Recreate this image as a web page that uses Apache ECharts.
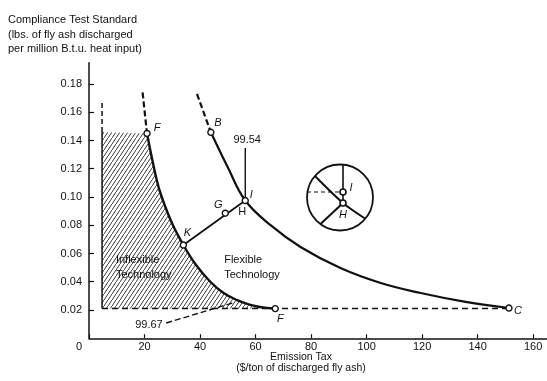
<!DOCTYPE html>
<html><head><meta charset="utf-8">
<script src="https://cdn.jsdelivr.net/npm/echarts@6/dist/echarts.min.js"></script>
<style>html,body{margin:0;padding:0;background:#fff}#c{width:547px;height:381px}</style>
</head><body><div id="c"></div>
<script>
// ---- data ----
const xTicks = [0, 20, 40, 60, 80, 100, 120, 140, 160];
const yTicks = [0.02, 0.04, 0.06, 0.08, 0.10, 0.12, 0.14, 0.16, 0.18];
const yTickLabels = ['0.02','0.04','0.06','0.08','0.10','0.12','0.14','0.16','0.18'];

// inner (inflexible) boundary curve F–K–F
const innerDashX = [19.3, 20.9];
const innerDashY = [0.174, 0.145];
const innerX = [20.9, 24.4, 26.2, 30.0, 34.0, 38.5, 43.7, 48.5, 53.4, 57.5, 60.6, 64.0, 67.1];
const innerY = [0.145, 0.112, 0.100, 0.081, 0.066, 0.052, 0.040, 0.032, 0.027, 0.024, 0.0225, 0.0215, 0.021];

// outer curve B–I–C
const outerDashX = [38.9, 43.9];
const outerDashY = [0.173, 0.1458];
const outerX = [43.9, 50.0, 56.3, 65.3, 76.2, 90.6, 105.1, 119.5, 135.7, 151.3];
const outerY = [0.1458, 0.121, 0.0975, 0.0802, 0.0646, 0.0497, 0.0391, 0.0320, 0.0257, 0.0214];

// hatched inflexible-technology region
const hatchLeftX = 4.7;
const hatchTopY = 0.146;
const baseY = 0.021;
const baseEndX = 151.3;
const hatchDashTopY = 0.168;

// K–G–H line and leaders
const khX = [34.0, 56.3];
const khY = [0.066, 0.0975];
const lead9954X = [56.3, 56.3];
const lead9954Y = [0.1347, 0.0975];
const lead9967X = [27.8, 51.6];
const lead9967Y = [0.0108, 0.0249];

// labelled points
const pointNames = ['F', 'B', 'K', 'G', 'I', 'F', 'C'];
const pointX = [20.9, 43.9, 34.0, 49.1, 56.3, 67.1, 151.3];
const pointY = [0.145, 0.1458, 0.066, 0.0885, 0.0975, 0.021, 0.0214];

// free text annotations
const noteText = ['99.54', '99.67', 'H', 'Inflexible\nTechnology', 'Flexible\nTechnology'];
const noteX = [57.0, 21.6, 55.2, 9.7, 48.7];
const noteY = [0.1404, 0.0094, 0.0894, 0.0504, 0.0504];

// inset (magnified view around I/H)
const insetVertX = [3, 3];   const insetVertY = [33, -5.5];
const insetCurveX = [-25, 3, 25]; const insetCurveY = [21.5, -5.5, -21];
const insetKHX = [3, -19.5]; const insetKHY = [-5.5, -26.5];
const insetDashX = [-33, 3]; const insetDashY = [5.5, 5.5];
const insetPtNames = ['I', 'H'];
const insetPtX = [3, 3];
const insetPtY = [5.5, -5.5];

// ---- helpers ----
const zip = (xs, ys) => xs.map((x, i) => [x, ys[i]]);
const FONT = '"Liberation Sans", Arial, sans-serif';
const INK = '#111';

const pat = document.createElement('canvas');
pat.width = 4; pat.height = 6;
(function () {
  const g = pat.getContext('2d');
  g.strokeStyle = '#222'; g.lineWidth = 0.9;
  g.beginPath();
  g.moveTo(-1, 7.5); g.lineTo(5, -1.5);
  g.stroke();
})();

const hatchPoly = [[hatchLeftX, hatchTopY]]
  .concat(zip(innerX, innerY))
  .concat([[hatchLeftX, baseY]]);

function lineS(xs, ys, opts) {
  return Object.assign({
    type: 'line', data: zip(xs, ys), symbol: 'none', silent: true,
    lineStyle: { color: INK, width: 2 }, z: 3, animation: false
  }, opts || {});
}

const chart = echarts.init(document.getElementById('c'));
chart.setOption({
  animation: false,
  grid: [
    { left: 89, right: 0, top: 62.8, bottom: 42.75 },
    { left: 307, top: 164.5, width: 66, height: 66 }
  ],
  xAxis: [{
    type: 'value', min: 0, max: 165, interval: 20, gridIndex: 0,
    splitLine: { show: false },
    axisLine: { lineStyle: { color: INK, width: 1.5 } },
    axisTick: { inside: true, length: 4, lineStyle: { color: INK, width: 1.2 }, customValues: xTicks },
    axisLabel: {
      customValues: xTicks,
      color: INK, fontFamily: FONT, fontSize: 11, margin: 3,
      formatter: v => v === 0 ? '{z|0}' : String(v),
      rich: { z: { padding: [0, 20, 0, 0], fontSize: 11, fontFamily: FONT, color: INK } }
    }
  }, {
    type: 'value', gridIndex: 1, min: -33, max: 33, show: false
  }],
  yAxis: [{
    type: 'value', min: 0, max: 0.195, interval: 0.02, gridIndex: 0,
    splitLine: { show: false },
    axisLine: { lineStyle: { color: INK, width: 1.5 } },
    axisTick: { inside: true, length: 5, lineStyle: { color: INK, width: 1.2 }, customValues: yTicks },
    axisLabel: {
      customValues: yTicks,
      color: INK, fontFamily: FONT, fontSize: 11, margin: 7,
      formatter: v => {
        const i = yTicks.findIndex(t => Math.abs(t - v) < 1e-6);
        return i >= 0 ? yTickLabels[i] : '';
      }
    }
  }, {
    type: 'value', gridIndex: 1, min: -33, max: 33, show: false
  }],
  graphic: [
    { type: 'text', x: 8, y: 13, silent: true,
      style: { text: 'Compliance Test Standard\n(lbs. of fly ash discharged\nper million B.t.u. heat input)',
        font: '11px ' + FONT, lineHeight: 14.5, fill: INK } },
    { type: 'text', x: 301, y: 351, silent: true,
      style: { text: 'Emission Tax\n($/ton of discharged fly ash)', font: '10.5px ' + FONT,
        lineHeight: 11.5, fill: INK, align: 'center', verticalAlign: 'top' } }
  ],
  series: [
    {
      type: 'custom', silent: true, z: 1, animation: false,
      data: hatchPoly,
      renderItem: function (params, api) {
        if (params.dataIndex !== 0) return null;
        const pts = hatchPoly.map(p => api.coord(p));
        return { type: 'polygon', shape: { points: pts },
          style: { fill: { image: pat, repeat: 'repeat' }, stroke: null } };
      }
    },
    lineS([hatchLeftX, hatchLeftX], [baseY, hatchTopY], { lineStyle: { color: INK, width: 1.5 } }),
    lineS([hatchLeftX, hatchLeftX], [hatchTopY, hatchDashTopY], { lineStyle: { color: INK, width: 1.5, type: [5, 3] } }),
    lineS([hatchLeftX, baseEndX], [baseY, baseY], { lineStyle: { color: INK, width: 1.5, type: [6, 4] } }),
    lineS(innerDashX, innerDashY, { lineStyle: { color: INK, width: 2.2, type: [6, 3] } }),
    lineS(innerX, innerY, { smooth: 0.4, lineStyle: { color: INK, width: 2.4 } }),
    lineS(outerDashX, outerDashY, { lineStyle: { color: INK, width: 2.2, type: [6, 3] } }),
    lineS(outerX, outerY, { smooth: 0.4, lineStyle: { color: INK, width: 2.2 } }),
    lineS(khX, khY, { lineStyle: { color: INK, width: 1.8 } }),
    lineS(lead9954X, lead9954Y, { lineStyle: { color: INK, width: 1.4 } }),
    lineS(lead9967X, lead9967Y, { lineStyle: { color: INK, width: 1.4, type: [6, 3] } }),
    {
      type: 'scatter', silent: true, z: 5, animation: false,
      data: pointNames.map((n, i) => ({ value: [pointX[i], pointY[i]], name: n })),
      symbol: 'circle', symbolSize: 6,
      itemStyle: { color: '#fff', borderColor: INK, borderWidth: 1.4, opacity: 1 },
      label: {
        show: true, formatter: p => p.name, color: INK, fontFamily: FONT, fontSize: 11,
        fontStyle: 'italic', position: 'inside', opacity: 1
      },
      labelLayout: function (p) {
        const off = [[10, -5], [7, -9], [4, -12], [-7, -8], [6, -6], [5, 10], [9, 3]];
        const o = off[p.dataIndex];
        return { x: p.rect.x + p.rect.width / 2 + o[0], y: p.rect.y + p.rect.height / 2 + o[1], align: 'center', verticalAlign: 'middle' };
      }
    },
    {
      type: 'scatter', silent: true, z: 6, animation: false,
      data: noteText.map((t, i) => ({ value: [noteX[i], noteY[i]], name: t })),
      symbolSize: 0,
      itemStyle: { opacity: 1 },
      label: {
        show: true, position: 'inside', formatter: p => p.name, color: INK,
        fontFamily: FONT, fontSize: 11, lineHeight: 15, opacity: 1
      },
      labelLayout: function (p) {
        const left = p.dataIndex >= 3;
        return { align: left ? 'left' : 'center', verticalAlign: 'middle' };
      }
    },
    // inset
    {
      type: 'scatter', xAxisIndex: 1, yAxisIndex: 1, silent: true, animation: false,
      data: [[0, 0]], symbol: 'circle', symbolSize: 66,
      itemStyle: { color: 'rgba(0,0,0,0)', borderColor: INK, borderWidth: 1.8, opacity: 1 }
    },
    lineS(insetVertX, insetVertY, { xAxisIndex: 1, yAxisIndex: 1, lineStyle: { color: INK, width: 1.6 } }),
    lineS(insetCurveX, insetCurveY, { xAxisIndex: 1, yAxisIndex: 1, smooth: 0.3, lineStyle: { color: INK, width: 2 } }),
    lineS(insetKHX, insetKHY, { xAxisIndex: 1, yAxisIndex: 1, lineStyle: { color: INK, width: 2 } }),
    lineS(insetDashX, insetDashY, { xAxisIndex: 1, yAxisIndex: 1, lineStyle: { color: INK, width: 1.2, type: [4, 3] } }),
    {
      type: 'scatter', xAxisIndex: 1, yAxisIndex: 1, silent: true, z: 5, animation: false,
      data: insetPtNames.map((n, i) => ({ value: [insetPtX[i], insetPtY[i]], name: n })),
      symbol: 'circle', symbolSize: 6,
      itemStyle: { color: '#fff', borderColor: INK, borderWidth: 1.6, opacity: 1 },
      label: { show: true, formatter: p => p.name, color: INK, fontFamily: FONT, fontSize: 11, fontStyle: 'italic', position: 'inside', opacity: 1 },
      labelLayout: function (p) {
        const off = [[8, -4], [0, 12]];
        const o = off[p.dataIndex];
        return { x: p.rect.x + p.rect.width / 2 + o[0], y: p.rect.y + p.rect.height / 2 + o[1], align: 'center', verticalAlign: 'middle' };
      }
    }
  ]
});
</script></body></html>
